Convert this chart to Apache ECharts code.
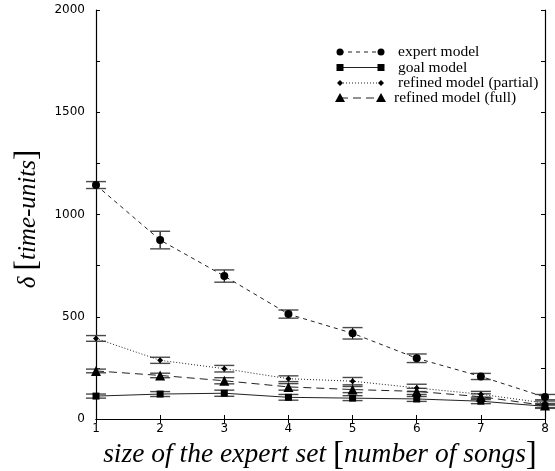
<!DOCTYPE html>
<html>
<head>
<meta charset="utf-8">
<script src="https://cdn.jsdelivr.net/npm/echarts@6/dist/echarts.min.js"></script>
<style>
  html, body { margin: 0; padding: 0; background: #fff; }
  #chart { width: 555px; height: 471px; }
</style>
</head>
<body>
<div id="chart"></div>
<script>
// Size of the expert set (number of songs)
const setSizes = [1, 2, 3, 4, 5, 6, 7, 8];

// Mean delay (time-units) and error half-widths per model
const expertMean  = [1144, 875, 699, 513, 419, 297, 208, 107];
const expertErr   = [17, 43, 30, 20, 28, 21, 15, 13];
const goalMean    = [112, 122, 126, 106, 102, 98, 87, 62];
const goalErr     = [10, 12, 15, 14, 12, 12, 12, 10];
const partialMean = [394, 287, 246, 197, 185, 152, 121, 78];
const partialErr  = [14, 15, 16, 14, 18, 18, 14, 10];
const fullMean    = [235, 213, 187, 157, 144, 135, 109, 66];
const fullErr     = [9, 11, 15, 16, 15, 15, 14, 10];

const yLabelValues = [0, 500, 1000, 1500, 2000];
const legendNames = ['expert model', 'goal model', 'refined model (partial)', 'refined model (full)'];

const chart = echarts.init(document.getElementById('chart'), null, { renderer: 'canvas' });

const tickFont = { fontFamily: 'DejaVu Sans', fontSize: 12, color: '#000' };

function errorBars(mean, err, name) {
  return {
    type: 'custom',
    name: name + ' error',
    silent: true,
    clip: false,
    z: 3,
    xAxisIndex: 0,
    yAxisIndex: 0,
    encode: { x: 0, y: [1, 2] },
    data: setSizes.map((x, i) => [x, mean[i] - err[i], mean[i] + err[i]]),
    renderItem(params, api) {
      const lo = api.coord([api.value(0), api.value(1)]);
      const hi = api.coord([api.value(0), api.value(2)]);
      const w = 10;
      return {
        type: 'group',
        children: [
          { type: 'line', shape: { x1: lo[0], y1: lo[1], x2: hi[0], y2: hi[1] }, style: { stroke: '#000', lineWidth: 1.2 } },
          { type: 'line', shape: { x1: lo[0] - w, y1: lo[1], x2: lo[0] + w, y2: lo[1] }, style: { stroke: '#4a4a4a', lineWidth: 1.4 } },
          { type: 'line', shape: { x1: hi[0] - w, y1: hi[1], x2: hi[0] + w, y2: hi[1] }, style: { stroke: '#4a4a4a', lineWidth: 1.4 } }
        ]
      };
    }
  };
}

function lineSeries(name, mean, dash, symbol, size) {
  return {
    type: 'line',
    name: name,
    data: setSizes.map((x, i) => [x, mean[i]]),
    symbol: symbol,
    symbolSize: size,
    showAllSymbol: true,
    clip: false,
    z: 4,
    lineStyle: { color: '#222', width: 1, type: dash },
    itemStyle: { color: '#000' },
    animation: false
  };
}

// Legend entries: line with a marker at each end, label on the right
const legendRows = [
  { y: 52, dash: [4, 4], sym: 'circle', textX: 398 },
  { y: 67.5, dash: null, sym: 'rect', textX: 398 },
  { y: 83, dash: [1, 2], sym: 'diamond', textX: 398 },
  { y: 98, dash: [8, 5], sym: 'triangle', textX: 394 }
];
function legendMarker(sym, cx, cy) {
  if (sym === 'circle') return { type: 'circle', shape: { cx: cx, cy: cy, r: 3.5 }, style: { fill: '#000' } };
  if (sym === 'rect') return { type: 'rect', shape: { x: cx - 3.5, y: cy - 3.5, width: 7, height: 7 }, style: { fill: '#000' } };
  if (sym === 'diamond') return { type: 'polygon', shape: { points: [[cx, cy - 3], [cx + 3, cy], [cx, cy + 3], [cx - 3, cy]] }, style: { fill: '#000' } };
  return { type: 'polygon', shape: { points: [[cx, cy - 5], [cx + 5, cy + 4], [cx - 5, cy + 4]] }, style: { fill: '#000' } };
}
const legendGraphics = [];
legendRows.forEach((r, i) => {
  legendGraphics.push({ type: 'line', shape: { x1: 340, y1: r.y, x2: 381, y2: r.y }, style: { stroke: '#222', lineWidth: 1, lineDash: r.dash } });
  legendGraphics.push(legendMarker(r.sym, 340, r.y));
  legendGraphics.push(legendMarker(r.sym, 381, r.y));
  legendGraphics.push({ type: 'text', x: r.textX, y: r.y, style: { text: legendNames[i], fontFamily: 'Liberation Serif', fontSize: 15.5, fill: '#000', textVerticalAlign: 'middle', textAlign: 'left' } });
});

const option = {
  animation: false,
  backgroundColor: '#fff',
  grid: { left: 96, right: 10, top: 10, bottom: 52, containLabel: false },
  xAxis: [
    {
      type: 'value', min: 1, max: 8, interval: 1, position: 'bottom',
      axisLine: { lineStyle: { color: '#000', width: 1.2 } },
      axisTick: { inside: true, length: 4, lineStyle: { color: '#000' } },
      axisLabel: Object.assign({ margin: 4 }, tickFont),
      splitLine: { show: false }
    },
    {
      type: 'value', min: 1, max: 8, interval: 1, position: 'top',
      axisLine: { show: true, lineStyle: { color: '#000', width: 1.2 } },
      axisTick: { inside: true, length: 4, lineStyle: { color: '#000' } },
      axisLabel: { show: false },
      splitLine: { show: false }
    }
  ],
  yAxis: [
    {
      type: 'value', min: 0, max: 2000, interval: 250, position: 'left',
      axisLine: { show: true, lineStyle: { color: '#000', width: 1.2 } },
      axisTick: { inside: true, length: 4, lineStyle: { color: '#000' } },
      axisLabel: Object.assign({
        margin: 11,
        formatter: v => (yLabelValues.indexOf(v) >= 0 ? String(v) : '')
      }, tickFont),
      splitLine: { show: false }
    },
    {
      type: 'value', min: 0, max: 2000, interval: 250, position: 'right',
      axisLine: { show: true, lineStyle: { color: '#000', width: 1.2 } },
      axisTick: { inside: true, length: 4, lineStyle: { color: '#000' } },
      axisLabel: { show: false },
      splitLine: { show: false }
    }
  ],
  series: [
    errorBars(expertMean, expertErr, 'expert model'),
    errorBars(goalMean, goalErr, 'goal model'),
    errorBars(partialMean, partialErr, 'refined model (partial)'),
    errorBars(fullMean, fullErr, 'refined model (full)'),
    lineSeries('expert model', expertMean, [4, 4], 'circle', 8),
    lineSeries('goal model', goalMean, 'solid', 'rect', 7),
    lineSeries('refined model (partial)', partialMean, [1, 2], 'diamond', 6),
    lineSeries('refined model (full)', fullMean, [8, 5], 'triangle', 10)
  ],
  graphic: legendGraphics.concat([
    {
      type: 'text', x: 320, y: 455,
      style: {
        text: '{i|size of the expert set }{b|[}{i|number of songs}{b|]}',
        textAlign: 'center', textVerticalAlign: 'middle',
        rich: {
          i: { fontFamily: 'Liberation Serif', fontStyle: 'italic', fontSize: 27.5, fill: '#000' },
          b: { fontFamily: 'Liberation Serif', fontSize: 33, fill: '#000' }
        }
      }
    },
    {
      type: 'text', x: 28, y: 219, rotation: Math.PI / 2,
      style: {
        text: '{i|δ }{b|[}{i|time-units}{b|]}',
        textAlign: 'center', textVerticalAlign: 'middle',
        rich: {
          i: { fontFamily: 'Liberation Serif', fontStyle: 'italic', fontSize: 25, fill: '#000' },
          b: { fontFamily: 'Liberation Serif', fontSize: 31, fill: '#000' }
        }
      }
    }
  ])
};

chart.setOption(option);
</script>
</body>
</html>
